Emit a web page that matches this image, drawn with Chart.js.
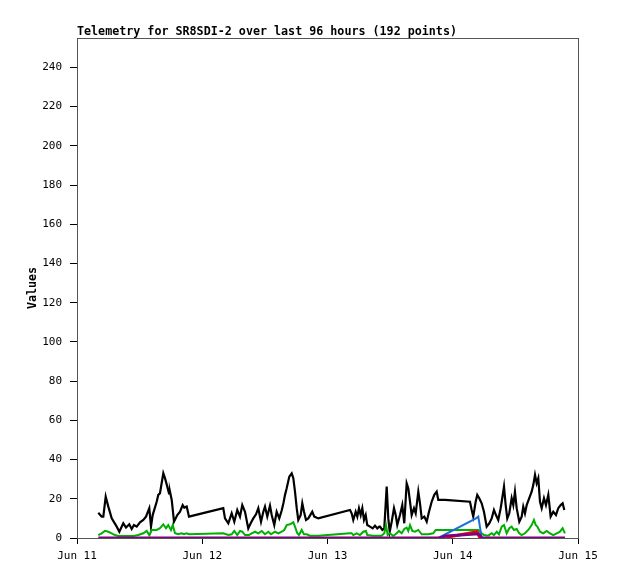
<!DOCTYPE html>
<html>
<head>
<meta charset="utf-8">
<script src="https://cdn.jsdelivr.net/npm/chart.js@4/dist/chart.umd.min.js"></script>
<style>
  html, body { margin: 0; padding: 0; background: #fff; }
  #wrap { width: 618px; height: 579px; }
</style>
</head>
<body>
<div id="wrap"><canvas id="telemetryChart" width="618" height="579"></canvas></div>
<script>
// hours since Jun 11 00:00
const dayLabels = ['Jun 11', 'Jun 12', 'Jun 13', 'Jun 14', 'Jun 15'];

const blackHours = [4.08, 4.73, 5.04, 5.50, 6.00, 6.65, 7.61, 8.11, 8.87, 9.39, 10.02, 10.48, 10.92, 11.44, 12.07, 12.70, 13.22, 13.85, 14.18, 14.50, 15.27, 15.58, 15.90, 16.54, 16.86, 17.30, 17.63, 17.82, 18.15, 18.59, 19.22, 19.74, 20.25, 20.56, 21.02, 21.46,
  28.03, 28.36, 28.99, 29.64, 30.14, 30.71, 31.23, 31.67, 32.19, 32.82, 33.28, 33.78, 34.30, 34.74, 35.26, 35.70, 36.02, 36.46, 36.98, 37.31, 37.80, 38.26, 38.76, 39.22, 39.57, 39.86, 40.18, 40.68, 41.14, 41.45, 41.77, 42.10, 42.40, 42.86, 43.17, 43.50, 43.88, 44.32, 45.08, 45.47, 46.23,
  52.31, 52.63, 52.94, 53.40, 53.71, 54.03, 54.36, 54.67, 54.99, 55.32, 55.62, 56.14, 56.66, 57.10, 57.54, 57.92, 58.06, 58.50, 58.88, 59.34, 59.65, 59.92, 60.30, 60.74, 61.07, 61.37, 61.89, 62.33, 62.71, 63.17, 63.48, 63.81, 64.13, 64.57, 64.90, 65.40, 65.72, 66.05, 66.55, 67.01, 67.45, 67.96, 68.46, 68.92, 69.23, 70.51,
  75.30, 75.63, 75.93, 76.39, 76.70, 77.08, 77.54, 77.98, 78.50, 79.00, 79.46, 79.90, 80.28, 80.72, 81.18, 81.38, 81.82, 82.14, 82.45, 82.83, 83.29, 83.60, 83.92, 84.25, 84.75, 85.21, 85.51, 85.84, 86.17, 86.66, 87.12, 87.43, 87.76, 88.08, 88.39, 88.72, 89.04, 89.48, 89.86, 90.31, 90.76, 91.26, 91.78, 92.22, 92.68, 93.06, 93.37];
const blackValues = [12.9, 10.9, 10.9, 21.1, 16, 10, 5.8, 3.2, 7.5, 5.3, 7, 4.6, 6.6, 5.8, 8, 9.2, 10.9, 15.2, 5.8, 11.7, 18.5, 22, 22.8, 33, 30.5, 26.2, 22.8, 23.6, 19.4, 8.3, 11.7, 13.4, 16.8, 15.5, 16, 10.9,
  15.2, 10, 7.5, 12.6, 8.3, 14.3, 10.9, 16.8, 13.4, 4.9, 7.5, 10, 12.1, 15.2, 8.3, 13.4, 16, 10.9, 16.5, 11.7, 6.6, 13.4, 10, 14, 18, 22, 25.4, 31.3, 33, 30.5, 23.6, 15.2, 9.2, 11.7, 17.7, 13.4, 9.2, 10, 13.4, 10.9, 10,
  14.3, 12.6, 9.2, 13.4, 10.9, 15.2, 11.7, 15.2, 9.2, 11.7, 6.6, 5.8, 4.9, 6.3, 4.9, 5.8, 5.8, 4.1, 4.9, 26.2, 10, 3.2, 8.3, 15.2, 11.7, 6.6, 11.7, 16.8, 7.5, 27.9, 25.4, 18.5, 11.7, 15.2, 12.6, 23.6, 17.7, 10, 10.9, 8.3, 13.4, 18.5, 22, 23.6, 19.4, 19.4,
  18.5, 14.3, 10.9, 18.5, 22, 20.3, 17.7, 13.4, 5.8, 7.5, 10, 14.3, 11.7, 9.2, 15.2, 18.5, 26.2, 16.8, 10, 12.6, 20.3, 16.8, 23.6, 15.2, 8.3, 10.9, 16, 12.6, 16.8, 20.3, 23.6, 27, 32.2, 27.9, 30.5, 18.5, 15.2, 20.3, 16.8, 22, 10.9, 13.4, 11.7, 15.2, 16.8, 17.7, 14.3];

const greenHours = [4.08, 4.73, 5.37, 6.00, 6.65, 7.28, 7.91, 8.87, 10.79, 11.75, 12.70, 13.36, 13.85, 14.31, 15.27, 15.90, 16.54, 17.05, 17.49, 18.01, 18.34, 18.78, 19.41, 20.06, 20.50, 21.02, 21.46,
  28.03, 28.99, 29.64, 30.14, 30.71, 31.23, 31.67, 32.19, 32.95, 33.47, 34.11, 34.74, 35.39, 36.02, 36.65, 37.17, 37.94, 38.57, 39.22, 39.72, 40.18, 40.81, 41.45, 41.77, 42.21, 42.54, 43.05, 43.50, 44.01, 44.64, 46.23,
  52.31, 52.63, 52.94, 53.59, 54.22, 54.86, 55.37, 55.62, 56.77, 58.37, 58.88, 59.21, 59.53, 59.97, 60.60, 61.26, 61.70, 62.22, 62.71, 63.17, 63.48, 63.81, 64.25, 64.76, 65.40, 66.05, 67.31, 68.27, 68.73, 69.23,
  76.26, 76.90, 77.22, 77.54, 77.98, 78.81, 79.46, 79.90, 80.42, 80.86, 81.38, 81.82, 82.33, 82.83, 83.29, 83.73, 84.25, 84.75, 85.21, 85.84, 86.47, 87.12, 87.56, 87.89, 88.20, 88.72, 89.35, 90.00, 90.63, 91.26, 91.92, 92.55, 93.06, 93.50];
const greenValues = [1.5, 2.4, 3.7, 3.2, 2.4, 1.5, 1, 1, 1, 1.5, 2.4, 3.6, 1.5, 4.1, 4.1, 5, 7, 5, 6.6, 4.1, 6.6, 2.4, 1.9, 2.4, 1.9, 2.4, 1.9,
  2.4, 1.5, 1.9, 3.6, 1.5, 3.6, 3.2, 1.5, 1.5, 2.4, 3.2, 2.4, 3.6, 1.9, 3.2, 1.9, 3.2, 2.4, 3.2, 4.1, 6.6, 7, 8, 5.8, 2.4, 1.5, 4.1, 1.9, 1.9, 1.2, 1.2,
  2.4, 2.4, 1.5, 2.4, 1.5, 3.2, 3.6, 1.5, 1.2, 1.2, 2.4, 6.6, 1.5, 2.4, 1, 2.4, 3.6, 2.4, 4.6, 5.3, 3.6, 6.6, 3.6, 3.2, 4.1, 1.9, 1.9, 2.4, 4.1, 4.1,
  4.1, 4.1, 3.2, 2.4, 1.5, 1.2, 2.4, 1.5, 3.2, 1.9, 5.8, 6.6, 2.4, 5, 5.8, 4.1, 4.6, 2.4, 1.5, 2.4, 4.1, 6.6, 9.2, 6.6, 5.8, 3.2, 2.4, 3.6, 2.4, 1.5, 2.4, 3.2, 5, 2.4];

const blueHours = [69.23, 76.45, 76.89, 77.54];
const blueValues = [0, 10, 10.9, 0.3];

const redHours = [70.70, 75.30, 76.64, 77.20];
const redValues = [0.3, 2.5, 3.2, 0];

const purpleHours = [4.08, 69.50, 70.70, 76.89, 77.60, 93.50];
const purpleValues = [0, 0, 1, 2.2, 0, 0];

const toPoints = (hours, values) => hours.map((h, i) => ({ x: h, y: values[i] }));

const MONO = '"DejaVu Sans Mono", "Liberation Mono", monospace';

// titolo + frame
const decorations = {
    id: 'decorations',
    afterDraw(chart) {
        const { ctx, chartArea } = chart;
        ctx.save();
        ctx.strokeStyle = '#555';
        ctx.lineWidth = 1;
        ctx.strokeRect(chartArea.left + 0.5, chartArea.top + 0.5, chartArea.right - chartArea.left, chartArea.bottom - chartArea.top);
        ctx.fillStyle = '#000';
        ctx.font = 'bold 11.7px ' + MONO;
        ctx.textAlign = 'left';
        ctx.textBaseline = 'alphabetic';
        ctx.fillText('Telemetry for SR8SDI-2 over last 96 hours (192 points)', chartArea.left, 35);
        ctx.translate(36, 288);
        ctx.rotate(-Math.PI / 2);
        ctx.textAlign = 'center';
        ctx.fillText('Values', 0, 0);
        ctx.restore();
    },
};

const lineStyle = (color, width) => ({
    borderColor: color,
    backgroundColor: color,
    borderWidth: width,
    pointRadius: 0,
    tension: 0,
    fill: false,
});

const config = {
    type: 'line',
    data: {
        datasets: [
            { label: 'purple', data: toPoints(purpleHours, purpleValues), ...lineStyle('#800080', 3) },
            { label: 'red', data: toPoints(redHours, redValues), ...lineStyle('#ff0000', 3) },
            { label: 'blue', data: toPoints(blueHours, blueValues), ...lineStyle('#1a6fd6', 2) },
            { label: 'green', data: toPoints(greenHours, greenValues), ...lineStyle('#00b000', 2) },
            { label: 'black', data: toPoints(blackHours, blackValues), ...lineStyle('#000000', 2.2) },
        ],
    },
    options: {
        responsive: false,
        animation: false,
        layout: { padding: { top: 38, right: 40, left: 0, bottom: 0 } },
        scales: {
            x: {
                type: 'linear',
                min: 0,
                max: 96,
                afterFit: (scale) => { scale.height = 41; },
                border: { display: true, color: '#000', width: 1 },
                grid: { drawOnChartArea: false, drawTicks: true, tickLength: 6, color: '#000' },
                ticks: {
                    stepSize: 24,
                    maxRotation: 0,
                    padding: 6,
                    color: '#000',
                    font: { family: MONO, size: 11 },
                    callback: (value) => dayLabels[value / 24],
                },
            },
            y: {
                min: 0,
                max: 255,
                afterFit: (scale) => { scale.width = 77; },
                border: { display: true, color: '#000', width: 1 },
                grid: { drawOnChartArea: false, drawTicks: true, tickLength: 7, color: '#000' },
                ticks: {
                    stepSize: 20,
                    includeBounds: false,
                    padding: 8,
                    color: '#000',
                    font: { family: MONO, size: 11 },
                },
            },
        },
        plugins: {
            legend: { display: false },
            title: { display: false },
            tooltip: { enabled: false },
        },
    },
    plugins: [decorations],
};

const telemetryChart = new Chart(document.getElementById('telemetryChart'), config);
</script>
</body>
</html>
